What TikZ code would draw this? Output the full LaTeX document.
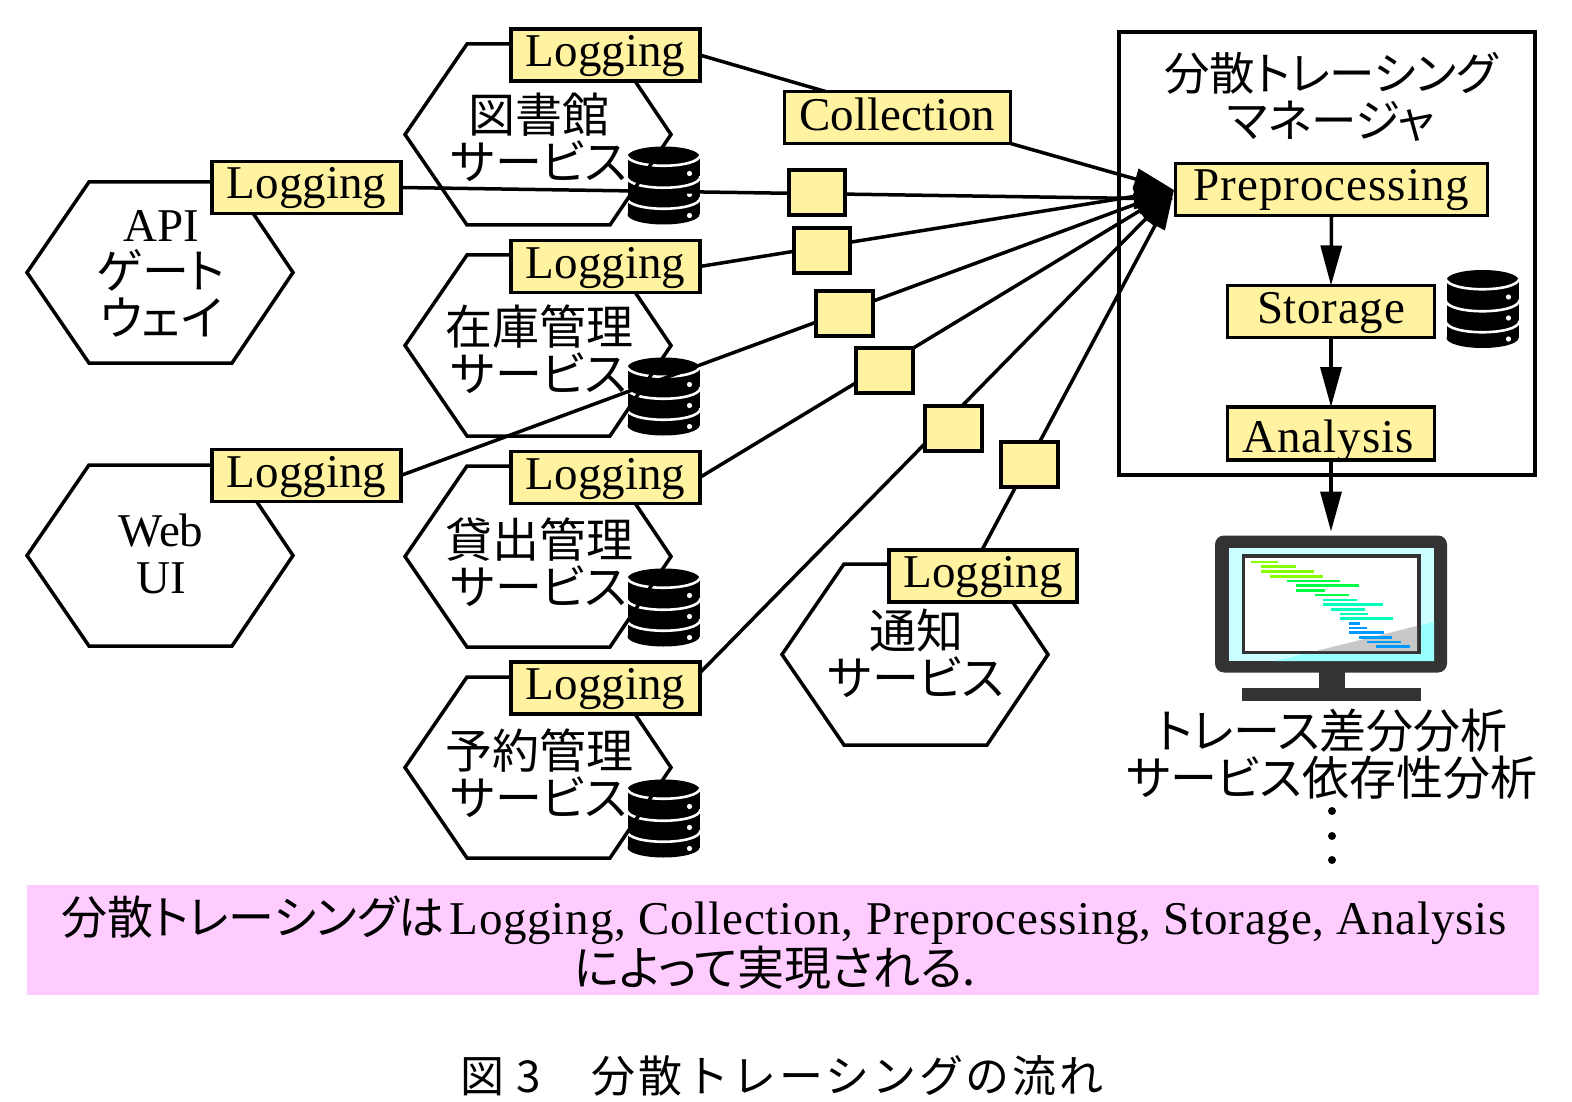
\documentclass[tikz,border=0pt]{standalone}
\usepackage{fontspec}
\setmainfont{Liberation Serif}
\newfontfamily\jp[RawFeature=+palt]{Noto Sans CJK JP}
\newfontfamily\jpcap[LetterSpace=6.7]{Noto Sans CJK JP}
\usetikzlibrary{arrows.meta,calc}
\definecolor{boxyellow}{HTML}{FFF2A0}
\definecolor{bandpink}{HTML}{FFCCFF}
\definecolor{mondark}{HTML}{333333}
\definecolor{scrlight}{HTML}{CCFFFF}
\definecolor{scrcyan}{HTML}{99FFFF}
\definecolor{scrgray}{HTML}{C8C8C8}
\definecolor{barlime}{HTML}{88FF00}
\definecolor{bargreen}{HTML}{00FF44}
\definecolor{barteal}{HTML}{00FFBB}
\definecolor{barblue}{HTML}{0099FF}
\tikzset{
  lbox/.style={draw=black,line width=3.6pt,fill=boxyellow,inner sep=0pt,outer sep=0pt,
    font=\fontsize{47}{47}\selectfont,text height=33pt,text depth=10pt},
  logbox/.style={lbox,minimum width=188.5pt,minimum height=52pt},
  tinybox/.style={draw=black,line width=3.6pt,fill=boxyellow,inner sep=0pt,outer sep=0pt,minimum width=56.5pt,minimum height=44.5pt},
  hexline/.style={draw=black,line width=3.5pt,line join=miter},
  conn/.style={draw=black,line width=3.5pt},
  arr/.style={draw=black,line width=3.5pt,-{Triangle[length=40pt,width=21pt]}},
  lab/.style={align=center,inner sep=0pt,font=\fontsize{47}{47}\selectfont},
}
\newcommand{\hexa}[2]{\draw[hexline] (#1-133,#2) -- (#1-71,#2-90.5) -- (#1+72,#2-90.5) -- (#1+133,#2) -- (#1+72,#2+90.5) -- (#1-71,#2+90.5) -- cycle;}
\newcommand{\dbicon}[2]{\begin{scope}[shift={(#1,#2)}]
  \fill[black] (36,10) ellipse[x radius=36,y radius=10];
  \fill[black] (36,68) ellipse[x radius=36,y radius=10];
  \fill[black] (0,10) rectangle (72,68);
  \foreach \d in {8,30,51}{
    \draw[white,line width=2.6pt] (-1,\d) .. controls (0,\d+15) and (72,\d+15) .. (73,\d);
  }
  \foreach \d in {27,48,69}{ \fill[white] (62,\d) circle[radius=2.6]; }
\end{scope}}
\begin{document}
\begin{tikzpicture}[x=1pt,y=-1pt]
\fill[white] (0,0) rectangle (1572,1102);
\useasboundingbox (0,0) rectangle (1572,1102);
% storage icons (under hex lines)
\dbicon{627.5}{146.5}
\dbicon{627.5}{357.5}
\dbicon{627.5}{568.5}
\dbicon{627.5}{779.5}
\dbicon{1446.5}{270}
% hexagons
\hexa{538}{134.5}
\hexa{538}{345.5}
\hexa{538}{556.5}
\hexa{538}{767.5}
\hexa{915}{654.5}
\hexa{160}{272.5}
\hexa{160}{555.5}
% hexagon labels
\node[lab] (tLib) at (539,137) {\jp 図書館\\\jp サービス};
\node[lab] (tInv) at (539,349) {\jp 在庫管理\\\jp サービス};
\node[lab] (tLoan) at (539,562.5) {\jp 貸出管理\\\jp サービス};
\node[lab] (tRes) at (539,773.5) {\jp 予約管理\\\jp サービス};
\node[lab] (tNot) at (916,653.5) {\jp 通知\\\jp サービス};
\node[lab] (tApi) at (161,274) {API\\\jp ゲート\\\jp ウェイ};
\node[lab] (tWeb) at (161,553.5) {Web\\UI};
% main frame
\draw[line width=3.6pt] (1119,32) rectangle (1535,475);
\node[lab,font=\fontsize{45.5}{47}\selectfont] (tMgr) at (1331,97) {\jp 分散トレーシング\\\jp マネージャ};
% named boxes
\coordinate (tip) at (1174,190);
\coordinate (tipB) at (1174,199);
\node[logbox] (logLib) at (605.5,55) {Logging};
\node[logbox] (logApi) at (306.5,187.5) {Logging};
\node[logbox] (logInv) at (605.5,266.5) {Logging};
\node[logbox] (logWeb) at (306.5,475.5) {Logging};
\node[logbox] (logLoan) at (605.5,477.5) {Logging};
\node[logbox] (logRes) at (605.5,688) {Logging};
\node[logbox] (logNot) at (983,576) {Logging};
\node[lbox,minimum width=226pt,minimum height=52pt] (coll) at (897.5,117.5) {\raisebox{-2pt}{Collection}};
\node[lbox,minimum width=312pt,minimum height=52pt] (prep) at (1331.5,189.5) {\addfontfeature{LetterSpace=2.1}Preprocessing};
\node[lbox,minimum width=207pt,minimum height=52pt] (stor) at (1331,311.5) {\raisebox{-1pt}{\addfontfeature{LetterSpace=1.5}Storage}};
\node[lbox,minimum width=207pt,minimum height=53pt] (ana) at (1331,433.5) {\hspace*{-6pt}\raisebox{-7pt}{\addfontfeature{LetterSpace=2}Analysis}};
% connectors
\draw[conn] (logLib.east) -- ([xshift=-72pt]coll.north);
\draw[arr] (coll.south east) -- (tip);
\draw[arr] (logApi.east) -- (tipB);
\draw[arr] (logInv.east) -- (tip);
\draw[arr] (logWeb.east) -- (tip);
\draw[arr] (logLoan.east) -- (tip);
\draw[arr] ([yshift=15pt]logRes.east) -- (tip);
\draw[arr] ([xshift=-1pt]logNot.north) -- (tip);
\draw[arr] (prep.south) -- (stor.north);
\draw[arr] (stor.south) -- (ana.north);
% small span boxes
\node[tinybox] (s1) at (817,192.5) {};
\node[tinybox] (s2) at (822,250.5) {};
\node[tinybox] (s3) at (844.5,313.5) {};
\node[tinybox] (s4) at (884.5,370.5) {};
\node[tinybox] (s5) at (953.5,428.5) {};
\node[tinybox] (s6) at (1029.5,464.5) {};
% monitor
\node[fill=mondark,rounded corners=9pt,minimum width=232pt,minimum height=137pt,inner sep=0pt,outer sep=0pt] (mon) at (1331,604) {};
\draw[arr] (ana.south) -- ([yshift=4pt]mon.north);
\fill[mondark] (1319,670) rectangle (1345,688);
\fill[mondark] (1242,688) rectangle (1421,701);
\fill[scrlight] (1229,548) rectangle (1434,661);
\fill[scrcyan] (1275,661) -- (1434,622) -- (1434,661) -- cycle;
\fill[mondark] (1242,554) rectangle (1421,654);
\fill[white] (1245,558) rectangle (1417,651);
\fill[scrgray] (1316,651) -- (1417,626) -- (1417,651) -- cycle;
\foreach \a/\b/\c/\k in {183/264/126/barlime,214/318/140/barlime,214/372/155/barlime,240/398/169/barlime,
  292/450/183/bargreen,318/507/197/bargreen,318/404/211/bargreen,375/478/225/bargreen,
  399/501/240/barteal,399/580/254/barteal,423/525/268/barteal,450/533/282/barteal,450/609/296/barteal,
  477/510/310/barblue,477/531/324/barblue,477/582/338/barblue,506/606/352/barblue,532/633/366/barblue,558/659/380/barblue}{
  \draw[\k,line width=2.4pt] ({1190+\a/3},{520+\c/3}) -- ({1190+\b/3},{520+\c/3});
}
% analysis text
\node[lab] (tDiff) at (1332,754) {\jp トレース差分分析\\\jp サービス依存性分析};
\fill[black] (1332,811) circle[radius=4];
\fill[black] (1332,836) circle[radius=4];
\fill[black] (1332,860) circle[radius=4];
% band
\fill[bandpink] (27,885) rectangle (1539,995);
\node[lab] (tBand) at (784,943) {{\fontsize{46}{47}\selectfont\jp 分散トレーシングは\hspace{5pt}}{\addfontfeature{LetterSpace=1.6}Logging, Collection, Preprocessing, Storage, Analysis}\\\jp によって実現される.\hspace*{18pt}};
% caption
\node[inner sep=0pt,font=\fontsize{44}{47}\selectfont] (tCap) at (782,1076) {\jpcap 図 3　分散トレーシングの流れ};
\end{tikzpicture}
\end{document}
